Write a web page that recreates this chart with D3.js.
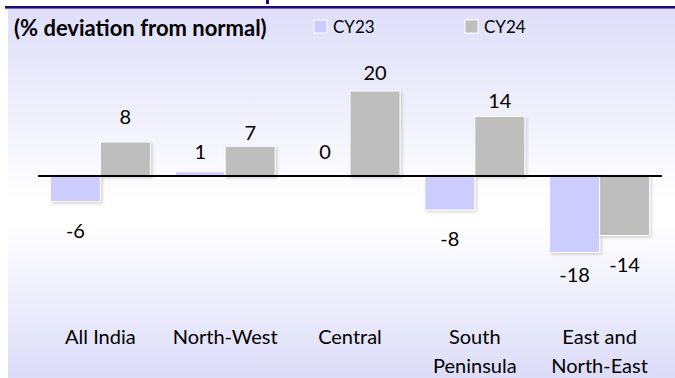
<!DOCTYPE html>
<html>
<head>
<meta charset="utf-8">
<script src="https://cdn.jsdelivr.net/npm/d3@7"></script>
<style>
  html, body { margin: 0; padding: 0; background: #ffffff; }
  svg { display: block; }
  text { font-family: Lato, "Open Sans", sans-serif; fill: #000; }
</style>
</head>
<body>
<svg id="chart" width="675" height="378"></svg>
<script>
// Rainfall deviation from normal by region, calendar years 2023 and 2024
const regions = [["All India"], ["North-West"], ["Central"], ["South", "Peninsula"], ["East and", "North-East"]];
const seriesNames = ["CY23", "CY24"];
const cy23 = [-6, 1, 0, -8, -18];
const cy24 = [8, 7, 20, 14, -14];
const unitLabel = "(% deviation from normal)";

// Hand-placed label nudges (px beyond the bar end)
const labelGapCY23 = [28, 21, 25, 28, 21];
const labelGapCY24 = [26, 14, 19, 17, 28];

const colors = { CY23: "#ccccff", CY24: "#bebebe" };

const W = 675, H = 378;
const svg = d3.select("#chart");
const defs = svg.append("defs");

// Panel background: lavender fading to white towards the middle
const grad = defs.append("linearGradient").attr("id", "bg").attr("x1", 0).attr("y1", 0).attr("x2", 0).attr("y2", 1);
grad.append("stop").attr("offset", "0%").attr("stop-color", "#dedef9");
grad.append("stop").attr("offset", "52%").attr("stop-color", "#ffffff");
grad.append("stop").attr("offset", "58%").attr("stop-color", "#ffffff");
grad.append("stop").attr("offset", "100%").attr("stop-color", "#dcdcf8");

const shadow = defs.append("filter").attr("id", "shadow").attr("x", "-20%").attr("y", "-20%").attr("width", "140%").attr("height", "140%");
shadow.append("feDropShadow").attr("dx", 1.5).attr("dy", 1.5).attr("stdDeviation", 1.5)
  .attr("flood-color", "#000").attr("flood-opacity", 0.18);

svg.append("rect").attr("x", 0).attr("y", 0).attr("width", W).attr("height", H).attr("fill", "#fff");
svg.append("rect").attr("x", 8).attr("y", 9).attr("width", W - 8).attr("height", H - 9).attr("fill", "url(#bg)");

// Header rule and the tail of the heading glyph above it
svg.append("rect").attr("x", 5).attr("y", 6).attr("width", W - 5).attr("height", 2.6).attr("fill", "#1d0b7c");
svg.append("rect").attr("x", 266).attr("y", 0).attr("width", 3).attr("height", 4).attr("fill", "#1d0b7c");

// Scales
const x0 = d3.scaleBand().domain(d3.range(regions.length)).range([38, 662]).padding(0);
const x1 = d3.scaleBand().domain(seriesNames).range([0, x0.bandwidth()]).paddingInner(0).paddingOuter(0.248);
const y = d3.scaleLinear().domain([-20, 24]).range([261, 74]);

const rows = regions.map((r, i) => ({ i, CY23: cy23[i], CY24: cy24[i] }));
const gaps = { CY23: labelGapCY23, CY24: labelGapCY24 };

const groups = svg.append("g").selectAll("g").data(rows).join("g")
  .attr("transform", d => `translate(${x0(d.i)},0)`);

groups.selectAll("rect").data(d => seriesNames.map(s => ({ s, v: d[s], i: d.i }))).join("rect")
  .attr("x", d => x1(d.s))
  .attr("width", x1.bandwidth())
  .attr("y", d => y(Math.max(0, d.v)))
  .attr("height", d => Math.abs(y(d.v) - y(0)))
  .attr("fill", d => colors[d.s])
  .attr("stroke", "#ffffff")
  .attr("stroke-width", 1)
  .attr("filter", "url(#shadow)");

// Zero baseline
svg.append("line").attr("x1", 38).attr("x2", 662).attr("y1", y(0)).attr("y2", y(0))
  .attr("stroke", "#000").attr("stroke-width", 1.8);

// Value labels
groups.selectAll("text.val").data(d => seriesNames.map(s => ({ s, v: d[s], i: d.i }))).join("text")
  .attr("class", "val")
  .attr("x", d => x1(d.s) + x1.bandwidth() / 2)
  .attr("y", d => d.v < 0 ? y(d.v) + gaps[d.s][d.i] : y(d.v) - gaps[d.s][d.i])
  .attr("text-anchor", "middle")
  .attr("dominant-baseline", "central")
  .attr("font-size", 20)
  .text(d => d.v);

// Category labels
const cat = svg.append("g").selectAll("text").data(regions).join("text")
  .attr("x", (d, i) => x0(i) + x0.bandwidth() / 2)
  .attr("y", 344)
  .attr("text-anchor", "middle")
  .attr("font-size", 20);
cat.selectAll("tspan").data(d => d).join("tspan")
  .attr("x", function () { return this.parentNode.getAttribute("x"); })
  .attr("dy", (d, j) => j === 0 ? 0 : 29)
  .text(d => d);

// Heading and legend
svg.append("text").attr("x", 14).attr("y", 36).attr("font-size", 22).attr("font-weight", "bold").text(unitLabel);

const legend = svg.append("g").selectAll("g").data(seriesNames).join("g")
  .attr("transform", (d, i) => `translate(${314 + i * 151},20)`);
legend.append("rect").attr("width", 13).attr("height", 13).attr("fill", d => colors[d])
  .attr("stroke", "#ffffff").attr("stroke-width", 1);
legend.append("text").attr("x", 19).attr("y", 13).attr("font-size", 17).text(d => d);
</script>
</body>
</html>
